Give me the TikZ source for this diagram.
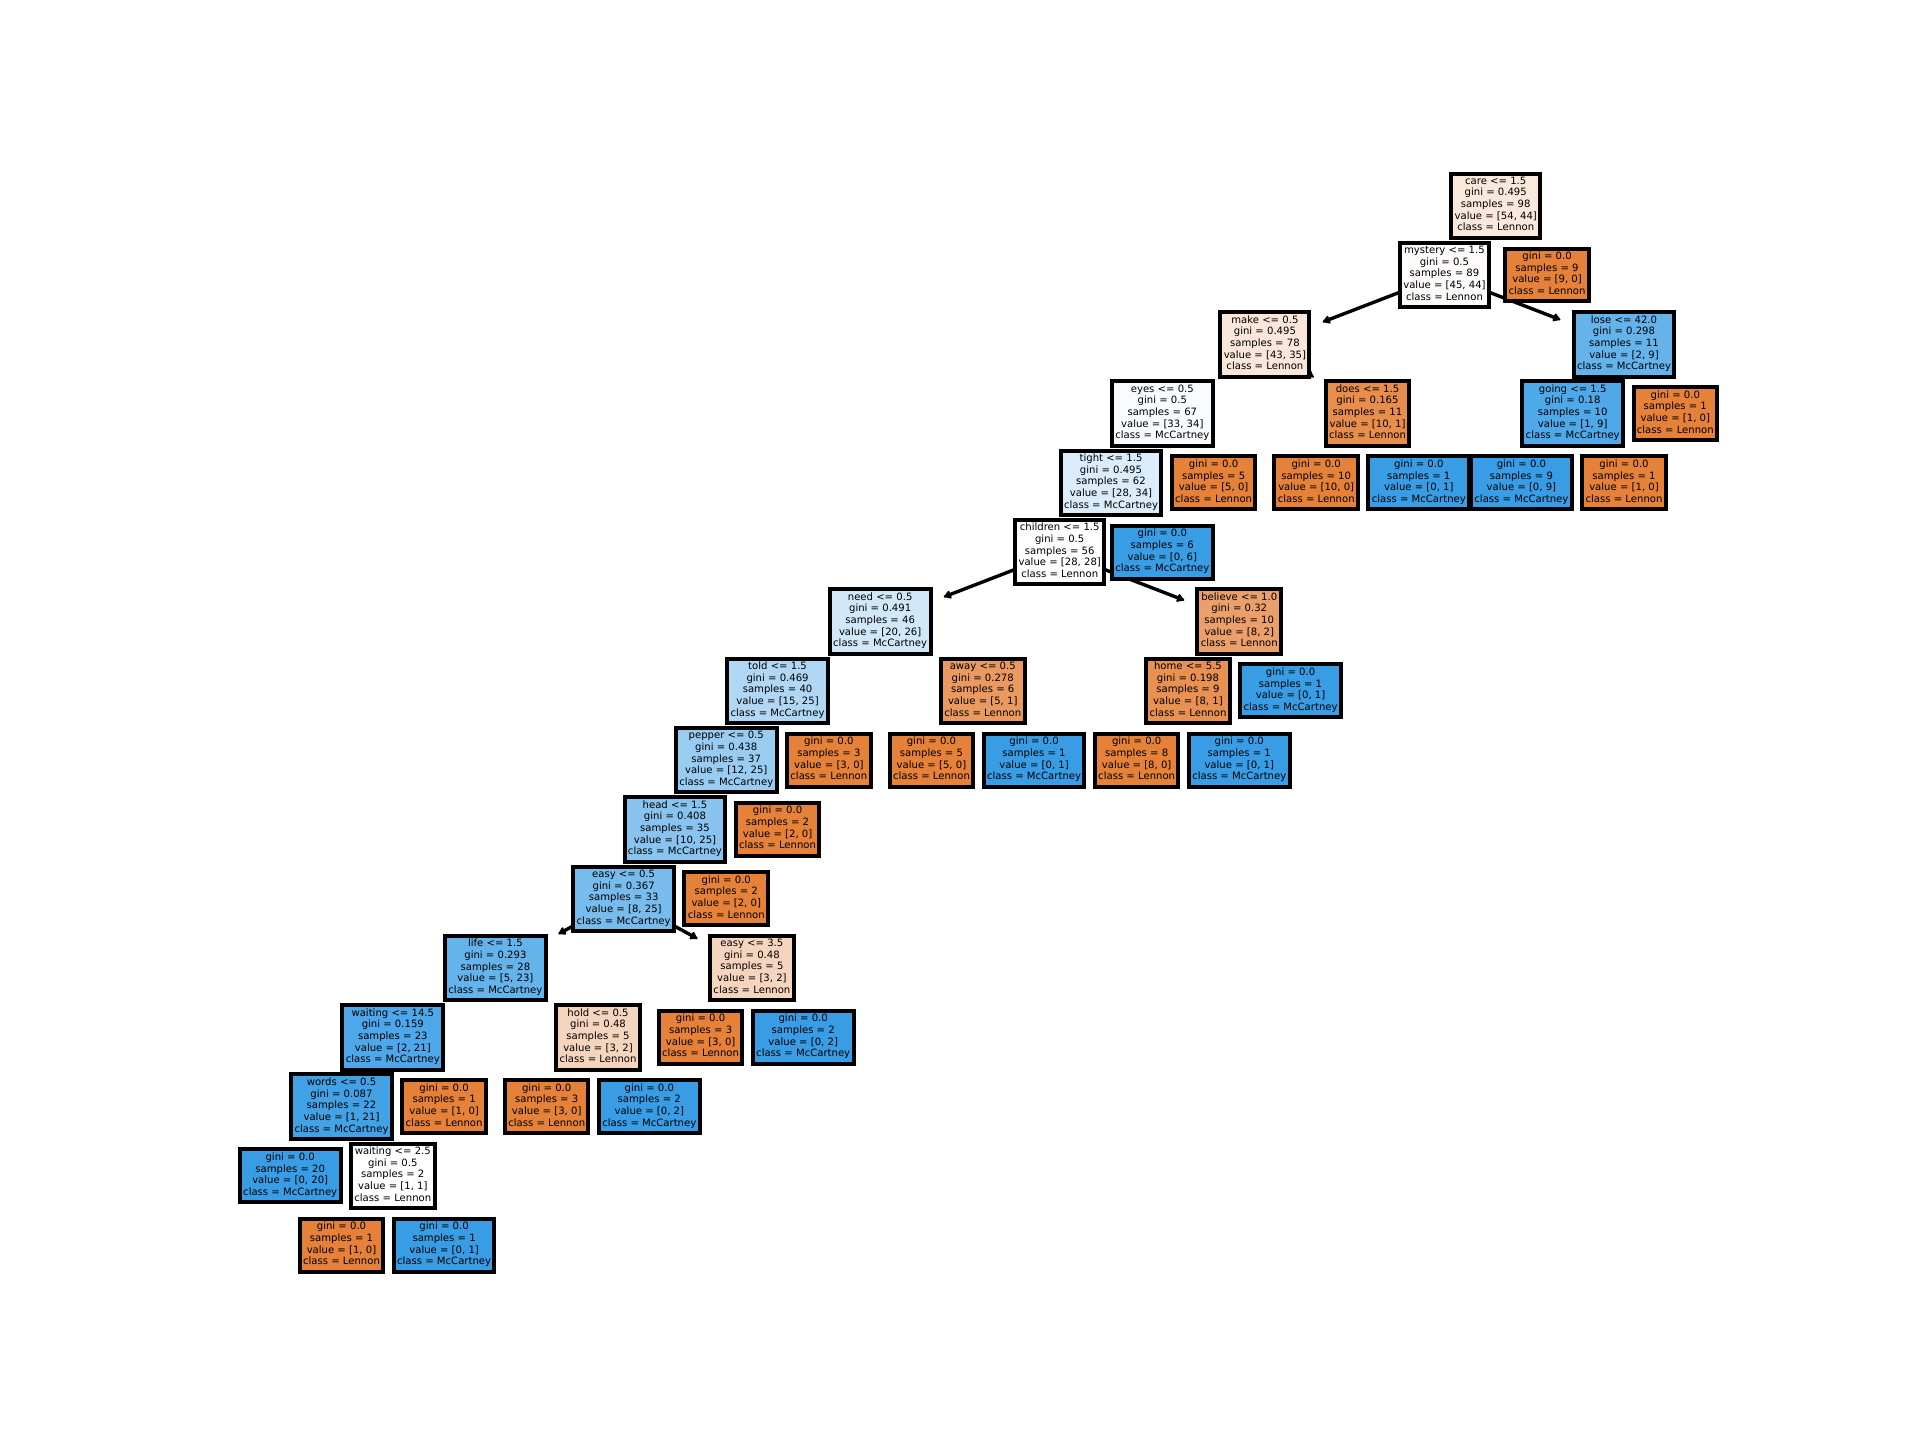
\documentclass[tikz,border=0pt]{standalone}
\usepackage{fontspec}
\setmainfont{DejaVu Sans}
\usetikzlibrary{arrows.meta, backgrounds}
\definecolor{lennon}{RGB}{229,129,57}
\definecolor{mccartney}{RGB}{57,157,229}
\tikzset{
    box/.style={draw, line width=0.1cm, inner sep=0.084cm, align=center,
        font=\fontsize{7.17pt}{8.3pt}\selectfont,
        execute at begin node=\strut, execute at end node=\strut}, % one box per tree node
    leafL/.style={box, fill=lennon}, % pure Lennon leaf
    leafM/.style={box, fill=mccartney}, % pure McCartney leaf
    link/.style={-{Latex[length=0.22cm, width=0.26cm, round]}, line width=0.085cm, shorten >=0.3cm}, % parent to child
}

\begin{document}
\begin{tikzpicture}[x=1.2825cm, y=-1.7325cm]
    \useasboundingbox (-5.657,-2.968) rectangle (31.770,17.811);
    \node[box, fill=lennon!18.5!white] (care) at (23.5,0) {care <= 1.5\\gini = 0.495\\samples = 98\\value = [54, 44]\\class = Lennon};
    \node[box, fill=lennon!2!white] (mystery) at (22.5,1) {mystery <= 1.5\\gini = 0.5\\samples = 89\\value = [45, 44]\\class = Lennon};
    \node[leafL] (careR) at (24.5,1) {gini = 0.0\\samples = 9\\value = [9, 0]\\class = Lennon};
    \node[box, fill=lennon!19!white] (make) at (19,2) {make <= 0.5\\gini = 0.495\\samples = 78\\value = [43, 35]\\class = Lennon};
    \node[box, fill=mccartney!78!white] (lose) at (26,2) {lose <= 42.0\\gini = 0.298\\samples = 11\\value = [2, 9]\\class = McCartney};
    \node[box, fill=mccartney!3!white] (eyes) at (17,3) {eyes <= 0.5\\gini = 0.5\\samples = 67\\value = [33, 34]\\class = McCartney};
    \node[box, fill=lennon!90!white] (does) at (21,3) {does <= 1.5\\gini = 0.165\\samples = 11\\value = [10, 1]\\class = Lennon};
    \node[box, fill=mccartney!89!white] (going) at (25,3) {going <= 1.5\\gini = 0.18\\samples = 10\\value = [1, 9]\\class = McCartney};
    \node[leafL] (loseR) at (27,3) {gini = 0.0\\samples = 1\\value = [1, 0]\\class = Lennon};
    \node[box, fill=mccartney!18!white] (tight) at (16,4) {tight <= 1.5\\gini = 0.495\\samples = 62\\value = [28, 34]\\class = McCartney};
    \node[leafL] (eyesR) at (18,4) {gini = 0.0\\samples = 5\\value = [5, 0]\\class = Lennon};
    \node[leafL] (doesL) at (20,4) {gini = 0.0\\samples = 10\\value = [10, 0]\\class = Lennon};
    \node[leafM] (doesR) at (22,4) {gini = 0.0\\samples = 1\\value = [0, 1]\\class = McCartney};
    \node[leafM] (goingL) at (24,4) {gini = 0.0\\samples = 9\\value = [0, 9]\\class = McCartney};
    \node[leafL] (goingR) at (26,4) {gini = 0.0\\samples = 1\\value = [1, 0]\\class = Lennon};
    \node[box, fill=white] (children) at (15,5) {children <= 1.5\\gini = 0.5\\samples = 56\\value = [28, 28]\\class = Lennon};
    \node[leafM] (tightR) at (17,5) {gini = 0.0\\samples = 6\\value = [0, 6]\\class = McCartney};
    \node[box, fill=mccartney!23!white] (need) at (11.5,6) {need <= 0.5\\gini = 0.491\\samples = 46\\value = [20, 26]\\class = McCartney};
    \node[box, fill=lennon!75!white] (believe) at (18.5,6) {believe <= 1.0\\gini = 0.32\\samples = 10\\value = [8, 2]\\class = Lennon};
    \node[box, fill=mccartney!40!white] (told) at (9.5,7) {told <= 1.5\\gini = 0.469\\samples = 40\\value = [15, 25]\\class = McCartney};
    \node[box, fill=lennon!80!white] (away) at (13.5,7) {away <= 0.5\\gini = 0.278\\samples = 6\\value = [5, 1]\\class = Lennon};
    \node[box, fill=lennon!87.5!white] (home) at (17.5,7) {home <= 5.5\\gini = 0.198\\samples = 9\\value = [8, 1]\\class = Lennon};
    \node[leafM] (believeR) at (19.5,7) {gini = 0.0\\samples = 1\\value = [0, 1]\\class = McCartney};
    \node[box, fill=mccartney!52!white] (pepper) at (8.5,8) {pepper <= 0.5\\gini = 0.438\\samples = 37\\value = [12, 25]\\class = McCartney};
    \node[leafL] (toldR) at (10.5,8) {gini = 0.0\\samples = 3\\value = [3, 0]\\class = Lennon};
    \node[leafL] (awayL) at (12.5,8) {gini = 0.0\\samples = 5\\value = [5, 0]\\class = Lennon};
    \node[leafM] (awayR) at (14.5,8) {gini = 0.0\\samples = 1\\value = [0, 1]\\class = McCartney};
    \node[leafL] (homeL) at (16.5,8) {gini = 0.0\\samples = 8\\value = [8, 0]\\class = Lennon};
    \node[leafM] (homeR) at (18.5,8) {gini = 0.0\\samples = 1\\value = [0, 1]\\class = McCartney};
    \node[box, fill=mccartney!60!white] (head) at (7.5,9) {head <= 1.5\\gini = 0.408\\samples = 35\\value = [10, 25]\\class = McCartney};
    \node[leafL] (pepperR) at (9.5,9) {gini = 0.0\\samples = 2\\value = [2, 0]\\class = Lennon};
    \node[box, fill=mccartney!68!white] (easyA) at (6.5,10) {easy <= 0.5\\gini = 0.367\\samples = 33\\value = [8, 25]\\class = McCartney};
    \node[leafL] (headR) at (8.5,10) {gini = 0.0\\samples = 2\\value = [2, 0]\\class = Lennon};
    \node[box, fill=mccartney!78!white] (life) at (4,11) {life <= 1.5\\gini = 0.293\\samples = 28\\value = [5, 23]\\class = McCartney};
    \node[box, fill=lennon!33!white] (easyB) at (9,11) {easy <= 3.5\\gini = 0.48\\samples = 5\\value = [3, 2]\\class = Lennon};
    \node[box, fill=mccartney!90!white] (waitingA) at (2,12) {waiting <= 14.5\\gini = 0.159\\samples = 23\\value = [2, 21]\\class = McCartney};
    \node[box, fill=lennon!33!white] (hold) at (6,12) {hold <= 0.5\\gini = 0.48\\samples = 5\\value = [3, 2]\\class = Lennon};
    \node[leafL] (easyBL) at (8,12) {gini = 0.0\\samples = 3\\value = [3, 0]\\class = Lennon};
    \node[leafM] (easyBR) at (10,12) {gini = 0.0\\samples = 2\\value = [0, 2]\\class = McCartney};
    \node[box, fill=mccartney!95!white] (words) at (1,13) {words <= 0.5\\gini = 0.087\\samples = 22\\value = [1, 21]\\class = McCartney};
    \node[leafL] (waitingAR) at (3,13) {gini = 0.0\\samples = 1\\value = [1, 0]\\class = Lennon};
    \node[leafL] (holdL) at (5,13) {gini = 0.0\\samples = 3\\value = [3, 0]\\class = Lennon};
    \node[leafM] (holdR) at (7,13) {gini = 0.0\\samples = 2\\value = [0, 2]\\class = McCartney};
    \node[leafM] (wordsL) at (0,14) {gini = 0.0\\samples = 20\\value = [0, 20]\\class = McCartney};
    \node[box, fill=white] (waitingB) at (2,14) {waiting <= 2.5\\gini = 0.5\\samples = 2\\value = [1, 1]\\class = Lennon};
    \node[leafL] (waitingBL) at (1,15) {gini = 0.0\\samples = 1\\value = [1, 0]\\class = Lennon};
    \node[leafM] (waitingBR) at (3,15) {gini = 0.0\\samples = 1\\value = [0, 1]\\class = McCartney};
    % edges go behind the boxes
    \begin{scope}[on background layer]
        \foreach \a/\b in {care/mystery, care/careR, mystery/make, mystery/lose,
            make/eyes, make/does, lose/going, lose/loseR, eyes/tight, eyes/eyesR,
            does/doesL, does/doesR, going/goingL, going/goingR, tight/children, tight/tightR,
            children/need, children/believe, need/told, need/away, believe/home, believe/believeR,
            told/pepper, told/toldR, away/awayL, away/awayR, home/homeL, home/homeR,
            pepper/head, pepper/pepperR, head/easyA, head/headR, easyA/life, easyA/easyB,
            life/waitingA, life/hold, easyB/easyBL, easyB/easyBR, waitingA/words, waitingA/waitingAR,
            hold/holdL, hold/holdR, words/wordsL, words/waitingB, waitingB/waitingBL, waitingB/waitingBR}
            \draw[link] (\a.center) -- (\b);
    \end{scope}
\end{tikzpicture}
\end{document}
